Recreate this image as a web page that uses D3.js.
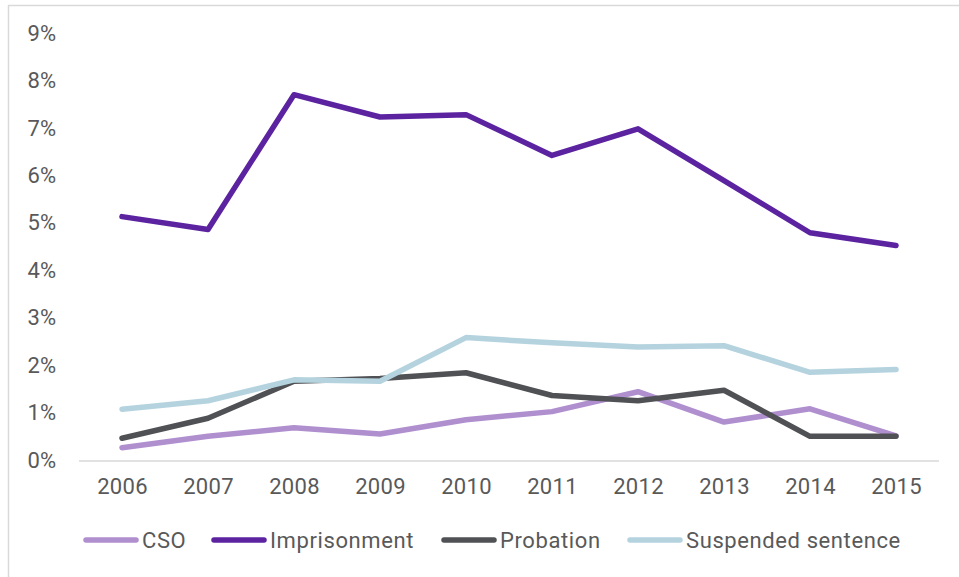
<!DOCTYPE html>
<html>
<head>
<meta charset="utf-8">
<script src="https://cdn.jsdelivr.net/npm/d3@7"></script>
<style>
  html, body { margin: 0; padding: 0; background: #ffffff; }
  svg { display: block; }
  text { font-family: Roboto, "DejaVu Sans", sans-serif; }
</style>
</head>
<body>
<svg id="chart" width="959" height="577"></svg>
<script>
// Share of sentences by type, 2006–2015 (percent)
const years = ["2006","2007","2008","2009","2010","2011","2012","2013","2014","2015"];
const cso           = [0.27, 0.51, 0.69, 0.56, 0.86, 1.03, 1.45, 0.81, 1.09, 0.52];
const imprisonment  = [5.14, 4.87, 7.71, 7.24, 7.29, 6.43, 6.99, 5.90, 4.80, 4.53];
const probation     = [0.47, 0.89, 1.67, 1.73, 1.85, 1.37, 1.26, 1.48, 0.51, 0.51];
const suspended     = [1.08, 1.26, 1.70, 1.67, 2.59, 2.48, 2.39, 2.42, 1.86, 1.92];
const yTicks = [0, 1, 2, 3, 4, 5, 6, 7, 8, 9];

const seriesNames  = ["CSO", "Imprisonment", "Probation", "Suspended sentence"];
const seriesValues = [cso, imprisonment, probation, suspended];
const seriesColors = ["#b08fcf", "#5c23a0", "#505155", "#b4d3df"];

const svg = d3.select("#chart");
const W = 959, H = 577;
const plot = { left: 79, right: 939, top: 33.5, bottom: 460.5 };
const textColor = "#595959";

// frame lines
svg.append("line").attr("x1", 8.5).attr("x2", 8.5).attr("y1", 5).attr("y2", H)
  .attr("stroke", "#d9d9d9").attr("stroke-width", 1.5);
svg.append("line").attr("x1", 8).attr("x2", W).attr("y1", 5.5).attr("y2", 5.5)
  .attr("stroke", "#d9d9d9").attr("stroke-width", 1.5);

const x = d3.scalePoint().domain(years).range([plot.left, plot.right]).padding(0.5);
const y = d3.scaleLinear().domain([0, 9]).range([plot.bottom, plot.top]);

// y axis labels
const yAxis = d3.axisLeft(y).tickValues(yTicks).tickFormat(d => d + "%").tickSize(0).tickPadding(0);
const yg = svg.append("g").attr("transform", "translate(56,-1)").call(yAxis);
yg.select(".domain").remove();
yg.selectAll("text").attr("fill", textColor).style("font-size", "22px")
  .attr("dy", "0.35em").attr("dx", "0");

// x axis
const xAxis = d3.axisBottom(x).tickSize(0).tickPadding(18);
const xg = svg.append("g").attr("transform", `translate(0,${plot.bottom})`).call(xAxis);
xg.select(".domain").attr("d", `M${plot.left},0.5H${plot.right}`)
  .attr("stroke", "#d9d9d9").attr("stroke-width", 1.5);
xg.selectAll("text").attr("fill", textColor).style("font-size", "22px")
  .style("letter-spacing", "0.3px");

// series lines
const line = d3.line().x((d, i) => x(years[i])).y(d => y(d));
seriesValues.forEach((vals, k) => {
  svg.append("path").datum(vals)
    .attr("d", line)
    .attr("fill", "none")
    .attr("stroke", seriesColors[k])
    .attr("stroke-width", 5.5)
    .attr("stroke-linejoin", "round")
    .attr("stroke-linecap", "round");
});

// legend
const legendY = 540;
const legendX = [84, 212, 442, 628];
seriesNames.forEach((name, k) => {
  const g = svg.append("g").attr("transform", `translate(${legendX[k]},${legendY})`);
  g.append("line").attr("x1", 2).attr("x2", 52).attr("y1", 0).attr("y2", 0)
    .attr("stroke", seriesColors[k]).attr("stroke-width", 5.5).attr("stroke-linecap", "round");
  g.append("text").attr("x", 58).attr("y", 0).attr("dy", "0.35em")
    .attr("fill", textColor).style("font-size", "22px").style("letter-spacing", "0.6px")
    .text(name);
});
</script>
</body>
</html>
